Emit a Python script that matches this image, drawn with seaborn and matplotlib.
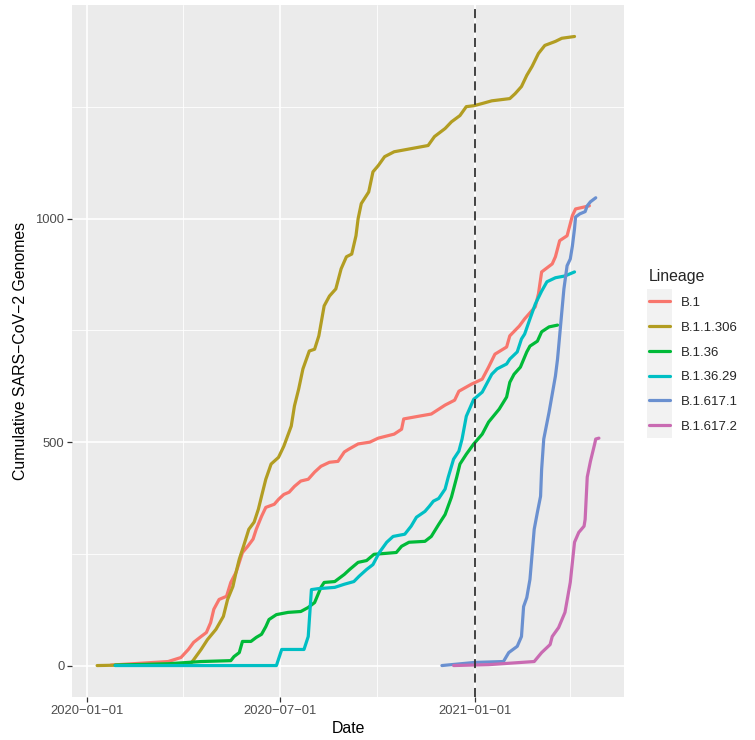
import pandas as pd
import matplotlib
matplotlib.use("Agg")
import matplotlib.pyplot as plt
import matplotlib.dates as mdates
import matplotlib.ticker as mticker
from matplotlib.patches import Rectangle
import seaborn as sns


# =========================================================
# 0. Data (cumulative genomes per lineage)
# =========================================================

lineages = ["B.1", "B.1.1.306", "B.1.36", "B.1.36.29", "B.1.617.1", "B.1.617.2"]
line_colors = ["#F8766D", "#B29D22", "#00BA38", "#00BFC4", "#6A90D0", "#C96BB2"]

b1_dates = [
    "2020-01-24", "2020-03-18", "2020-03-30", "2020-04-06", "2020-04-11", "2020-04-18",
    "2020-04-23", "2020-04-27", "2020-04-30", "2020-05-05", "2020-05-12", "2020-05-16",
    "2020-05-21", "2020-05-24", "2020-05-27", "2020-06-01", "2020-06-06", "2020-06-09",
    "2020-06-14", "2020-06-18", "2020-06-26", "2020-06-30", "2020-07-05", "2020-07-10",
    "2020-07-15", "2020-07-21", "2020-07-28", "2020-08-03", "2020-08-09", "2020-08-17",
    "2020-08-25", "2020-08-31", "2020-09-04", "2020-09-13", "2020-09-24", "2020-10-02",
    "2020-10-17", "2020-10-24", "2020-10-26", "2020-11-09", "2020-11-21", "2020-12-04",
    "2020-12-13", "2020-12-17", "2020-12-29", "2021-01-08", "2021-01-14", "2021-01-20",
    "2021-01-31", "2021-02-03", "2021-02-12", "2021-02-17", "2021-02-27", "2021-03-02",
    "2021-03-05", "2021-03-15", "2021-03-18", "2021-03-22", "2021-03-29", "2021-04-03",
    "2021-04-06", "2021-04-19",
]
b1_counts = [
    1, 9, 18, 36, 52, 65, 74, 96, 126, 148, 155, 186, 209, 231, 253, 267, 283, 305,
    334, 354, 361, 372, 383, 388, 401, 413, 417, 433, 446, 455, 457, 478, 484, 496,
    500, 509, 518, 529, 552, 558, 563, 583, 594, 614, 630, 641, 668, 697, 713, 738,
    760, 776, 803, 832, 881, 899, 915, 951, 962, 1007, 1022, 1029,
]

b11306_dates = [
    "2020-01-11", "2020-04-08", "2020-04-11", "2020-04-18", "2020-04-24", "2020-05-02",
    "2020-05-09", "2020-05-13", "2020-05-18", "2020-05-21", "2020-05-24", "2020-05-28",
    "2020-06-02", "2020-06-07", "2020-06-11", "2020-06-14", "2020-06-18", "2020-06-23",
    "2020-06-30", "2020-07-05", "2020-07-12", "2020-07-15", "2020-07-19", "2020-07-23",
    "2020-07-29", "2020-08-03", "2020-08-07", "2020-08-12", "2020-08-17", "2020-08-23",
    "2020-08-28", "2020-09-02", "2020-09-07", "2020-09-11", "2020-09-13", "2020-09-16",
    "2020-09-23", "2020-09-27", "2020-10-02", "2020-10-08", "2020-10-17", "2020-11-02",
    "2020-11-18", "2020-11-24", "2020-12-04", "2020-12-10", "2020-12-18", "2020-12-24",
    "2020-12-31", "2021-01-08", "2021-01-17", "2021-02-03", "2021-02-08", "2021-02-14",
    "2021-02-19", "2021-02-24", "2021-03-02", "2021-03-08", "2021-03-18", "2021-03-24",
    "2021-04-05",
]
b11306_counts = [
    0, 4, 13, 36, 58, 81, 110, 148, 177, 209, 238, 267, 305, 321, 350, 379, 417, 451,
    466, 491, 536, 581, 619, 664, 704, 708, 738, 805, 827, 843, 888, 915, 921, 962,
    1000, 1034, 1060, 1105, 1119, 1139, 1150, 1157, 1164, 1184, 1202, 1217, 1231,
    1251, 1253, 1258, 1264, 1269, 1280, 1296, 1321, 1341, 1370, 1388, 1397, 1404, 1408,
]

b136_dates = [
    "2020-01-28", "2020-03-18", "2020-04-18", "2020-05-16", "2020-05-19", "2020-05-24",
    "2020-05-27", "2020-06-04", "2020-06-09", "2020-06-14", "2020-06-18", "2020-06-21",
    "2020-06-28", "2020-07-09", "2020-07-21", "2020-07-28", "2020-08-03", "2020-08-09",
    "2020-08-12", "2020-08-22", "2020-08-31", "2020-09-05", "2020-09-13", "2020-09-21",
    "2020-09-28", "2020-10-19", "2020-10-24", "2020-10-31", "2020-11-15", "2020-11-21",
    "2020-11-28", "2020-12-04", "2020-12-10", "2020-12-15", "2020-12-18", "2020-12-24",
    "2020-12-31", "2021-01-08", "2021-01-14", "2021-01-24", "2021-01-31", "2021-02-03",
    "2021-02-07", "2021-02-13", "2021-02-19", "2021-02-22", "2021-03-01", "2021-03-05",
    "2021-03-12", "2021-03-20",
]
b136_counts = [
    1, 4, 9, 11, 20, 29, 54, 54, 63, 70, 87, 103, 114, 119, 121, 130, 141, 175, 186,
    188, 204, 215, 231, 235, 249, 253, 267, 276, 278, 289, 316, 338, 377, 422, 451,
    473, 496, 518, 545, 574, 601, 634, 652, 668, 702, 715, 726, 747, 758, 762,
]

b13629_dates = [
    "2020-01-28", "2020-06-28", "2020-07-03", "2020-07-24", "2020-07-28", "2020-07-31",
    "2020-08-06", "2020-08-22", "2020-08-31", "2020-09-09", "2020-09-14", "2020-09-21",
    "2020-09-27", "2020-10-03", "2020-10-10", "2020-10-16", "2020-10-27", "2020-11-02",
    "2020-11-07", "2020-11-15", "2020-11-19", "2020-11-23", "2020-11-28", "2020-12-04",
    "2020-12-07", "2020-12-12", "2020-12-17", "2020-12-20", "2020-12-24", "2020-12-31",
    "2021-01-08", "2021-01-17", "2021-01-22", "2021-01-31", "2021-02-03", "2021-02-10",
    "2021-02-14", "2021-02-17", "2021-02-22", "2021-02-27", "2021-03-05", "2021-03-10",
    "2021-03-18", "2021-03-27", "2021-04-05",
]
b13629_counts = [
    0, 0, 36, 36, 65, 170, 172, 175, 182, 188, 200, 215, 226, 253, 276, 289, 294, 312,
    332, 345, 356, 368, 374, 395, 422, 462, 480, 507, 558, 596, 612, 652, 664, 675,
    686, 702, 731, 742, 776, 809, 838, 859, 868, 872, 881,
]

b16171_dates = [
    "2020-12-01", "2021-01-01", "2021-01-28", "2021-02-02", "2021-02-10", "2021-02-14",
    "2021-02-16", "2021-02-19", "2021-02-22", "2021-02-26", "2021-03-01", "2021-03-04",
    "2021-03-05", "2021-03-07", "2021-03-12", "2021-03-18", "2021-03-20", "2021-03-24",
    "2021-03-26", "2021-03-29", "2021-04-01", "2021-04-03", "2021-04-05", "2021-04-06",
    "2021-04-10", "2021-04-15", "2021-04-17", "2021-04-20", "2021-04-25",
]
b16171_counts = [
    0, 7, 9, 29, 43, 65, 132, 152, 193, 305, 343, 379, 439, 507, 567, 648, 686, 791,
    843, 895, 910, 939, 978, 1004, 1011, 1016, 1029, 1038, 1047,
]

b16172_dates = [
    "2020-12-12", "2021-01-14", "2021-02-26", "2021-03-05", "2021-03-13", "2021-03-15",
    "2021-03-21", "2021-03-27", "2021-04-01", "2021-04-05", "2021-04-09", "2021-04-14",
    "2021-04-15", "2021-04-17", "2021-04-20", "2021-04-24", "2021-04-25", "2021-04-28",
]
b16172_counts = [
    0, 2, 9, 29, 47, 65, 85, 119, 186, 276, 298, 312, 327, 422, 457, 496, 507, 509,
]

series_dates = [b1_dates, b11306_dates, b136_dates, b13629_dates, b16171_dates, b16172_dates]
series_counts = [b1_counts, b11306_counts, b136_counts, b13629_counts, b16171_counts, b16172_counts]

frames = []
for name, d, c in zip(lineages, series_dates, series_counts):
    frames.append(pd.DataFrame({"Date": pd.to_datetime(d), "Genomes": c, "Lineage": name}))
df = pd.concat(frames, ignore_index=True)

cutoff_date = pd.Timestamp("2021-01-01")
x_major = pd.to_datetime(["2020-01-01", "2020-07-01", "2021-01-01"])
x_minor = pd.to_datetime(["2020-04-01", "2020-10-01", "2021-04-01"])
y_major = [0, 500, 1000]
y_minor = [250, 750, 1250]


# =========================================================
# 1. Plot
# =========================================================

sns.set_theme(style="darkgrid", rc={
    "axes.facecolor": "#EBEBEB",
    "grid.color": "white",
})
plt.rcParams["font.family"] = ["Liberation Sans", "DejaVu Sans"]

fig = plt.figure(figsize=(7.55, 7.40), dpi=100)
ax = fig.add_axes([0.0954, 0.0581, 0.7311, 0.9351])

sns.lineplot(
    data=df, x="Date", y="Genomes", hue="Lineage",
    hue_order=lineages, palette=dict(zip(lineages, line_colors)),
    estimator=None, linewidth=2.3, ax=ax,
)

ax.axvline(cutoff_date, color="#333333", linewidth=1.3, linestyle=(0, (5, 3)), zorder=5)

ax.margins(x=0.05, y=0.05)


def date_label(x, pos):
    # R's device draws the hyphens of the dates as minus signs
    return mdates.num2date(x).strftime("%Y-%m-%d").replace("-", "\u2212")


ax.xaxis.set_major_locator(mticker.FixedLocator(mdates.date2num(x_major)))
ax.xaxis.set_minor_locator(mticker.FixedLocator(mdates.date2num(x_minor)))
ax.xaxis.set_major_formatter(mticker.FuncFormatter(date_label))
ax.yaxis.set_major_locator(mticker.FixedLocator(y_major))
ax.yaxis.set_minor_locator(mticker.FixedLocator(y_minor))

ax.grid(which="major", color="white", linewidth=1.2)
ax.grid(which="minor", color="white", linewidth=0.6)
for s in ax.spines.values():
    s.set_visible(False)

ax.tick_params(which="major", length=3.5, width=0.9, color="#333333",
               labelsize=9.4, labelcolor="#4D4D4D", pad=2, bottom=True, left=True)
ax.tick_params(which="minor", length=0, bottom=False, left=False)

ax.set_xlabel("Date", fontsize=11.4, color="black", labelpad=3)
ax.set_ylabel("Cumulative SARS\u2212CoV\u22122 Genomes", fontsize=11.4, color="black", labelpad=5)

sns.move_legend(
    ax, "center left", bbox_to_anchor=(1.023, 0.5), title="Lineage",
    frameon=False, fontsize=9.5, title_fontsize=11.4,
    handlelength=1.6, labelspacing=0.95, handletextpad=0.85,
)
leg = ax.get_legend()
leg._legend_box.align = "left"
for line in leg.get_lines():
    line.set_linewidth(2.3)

# grey key background column behind the legend lines (ggplot style)
fig.canvas.draw()
renderer = fig.canvas.get_renderer()
boxes = [ln.get_window_extent(renderer) for ln in leg.get_lines()]
cx = (boxes[0].x0 + boxes[0].x1) / 2
ys = [(b.y0 + b.y1) / 2 for b in boxes]
pitch = abs(ys[0] - ys[1])
key_w = 25
fw, fh = fig.bbox.width, fig.bbox.height
fig.patches.append(Rectangle(
    ((cx - key_w / 2) / fw, (min(ys) - pitch / 2) / fh),
    key_w / fw, (max(ys) - min(ys) + pitch) / fh,
    transform=fig.transFigure, facecolor="#F2F2F2", edgecolor="none", zorder=-1,
))

fig.savefig("out.png", dpi=100)
